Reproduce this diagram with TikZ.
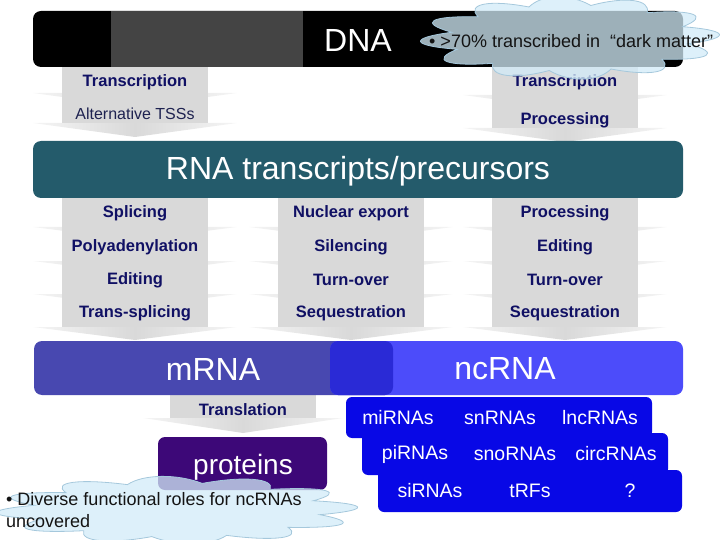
\documentclass[tikz,border=0pt]{standalone}
\usepackage{fontspec}
\setmainfont{Liberation Sans}
\definecolor{segc}{RGB}{217,217,217}
\definecolor{segl}{RGB}{245,245,245}
\definecolor{navy}{RGB}{16,16,100}
\definecolor{navyreg}{RGB}{30,34,80}
\definecolor{dnagray}{RGB}{68,68,68}
\definecolor{rnateal}{RGB}{36,91,107}
\definecolor{mrnac}{RGB}{72,72,176}
\definecolor{ncrnac}{RGB}{76,76,250}
\definecolor{overc}{RGB}{42,42,214}
\definecolor{subc}{RGB}{8,8,230}
\definecolor{protc}{RGB}{61,8,120}
\definecolor{cloudf}{RGB}{210,235,248}
\definecolor{cloudd}{RGB}{165,200,220}
\definecolor{cloudtext}{RGB}{20,20,20}
\newcommand{\arrseg}[6]{%
  \shade[left color=segl,right color=segl,middle color=segc]
    (#1-#5,#3) -- (#1+#5,#3) -- (#1,#3+#6) -- cycle;
  \fill[segc] (#1-#4,#2) rectangle (#1+#4,#3);}
\newcommand{\cloudshape}[5]{%
  \path[cloudbox] ({#1+#3*cos(10)},{#2+#4*sin(10)})
    \foreach \i in {1,...,12}{
      .. controls ({#1+#5*#3*cos(10+(\i-0.667)*30)},{#2+#5*#4*sin(10+(\i-0.667)*30)})
      and ({#1+#5*#3*cos(10+(\i-0.333)*30)},{#2+#5*#4*sin(10+(\i-0.333)*30)})
      .. ({#1+#3*cos(10+\i*30)},{#2+#4*sin(10+\i*30)})
    } -- cycle;}
\tikzset{
  lbl/.style={font=\fontsize{16.5}{18}\selectfont\bfseries, text=navy, inner sep=0pt},
  lblreg/.style={font=\fontsize{16}{18}\selectfont, text=navyreg, inner sep=0pt},
  bigw/.style={font=\fontsize{32}{36}\selectfont, text=white, inner sep=0pt},
  subw/.style={font=\fontsize{19.5}{22}\selectfont, text=white, inner sep=0pt},
  bar/.style={rounded corners=8pt},
  cloudbox/.style={fill=cloudf, fill opacity=0.75, draw=cloudd, line width=0.8pt},
  cloudtxt/.style={font=\fontsize{18}{22}\selectfont, text=cloudtext, inner sep=0pt}
}
\begin{document}
\begin{tikzpicture}[x=1pt,y=-1pt]
\useasboundingbox (0,0) rectangle (720,540);
% gray process arrows, top
\arrseg{135}{60}{93}{73}{102}{14}
\arrseg{135}{93}{123}{73}{102}{14}
\arrseg{565}{60}{95}{73}{102}{14}
\arrseg{565}{95}{128}{73}{102}{14}
% middle columns
\foreach \cx in {135,351,565}{
  \arrseg{\cx}{190}{227}{73}{102}{13}
  \arrseg{\cx}{227}{261}{73}{102}{13}
  \arrseg{\cx}{261}{294}{73}{102}{13}
  \arrseg{\cx}{294}{327}{73}{102}{13}
}
% translation
\arrseg{243}{390}{418}{73}{100}{15}
% bars
\fill[black, bar] (33,11) rectangle (683,67);
\fill[dnagray] (111,11) rectangle (303,67);
\node[bigw] (dna) at (358,40) {DNA};
\fill[rnateal, bar] (33,141) rectangle (683,198);
\node[bigw] (rna) at (358,171) {RNA transcripts/precursors};
\fill[mrnac, bar] (34,341) rectangle (393,395);
\fill[ncrnac, bar] (330,341) rectangle (683,395);
\fill[overc, bar] (330,341) rectangle (393,395);
\node[bigw] (mrna) at (213,369) {mRNA};
\node[bigw] (ncrna) at (505,369) {ncRNA};
\fill[protc, rounded corners=7pt] (158,437) rectangle (327,490);
\node[font=\fontsize{28}{30}\selectfont, text=white, inner sep=0pt] (prot) at (243,467) {proteins};
% ncRNA sub boxes
\fill[subc, rounded corners=6pt] (346,397) rectangle (652,438);
\node[subw] (mi) at (398,418) {miRNAs};
\node[subw] (sn) at (500,418) {snRNAs};
\node[subw] (lnc) at (600,418) {lncRNAs};
\fill[subc, rounded corners=6pt] (362,433) rectangle (668,475);
\node[subw] (pi) at (415,454) {piRNAs};
\node[subw] (sno) at (515,454) {snoRNAs};
\node[subw] (circ) at (616,454) {circRNAs};
\fill[subc, rounded corners=6pt] (378,470) rectangle (682,512);
\node[subw] (si) at (430,491) {siRNAs};
\node[subw] (trf) at (530,491) {tRFs};
\node[subw] (q) at (630,491) {?};
% arrow labels
\node[lbl] (t1) at (135,82) {Transcription};
\node[lblreg] (alt) at (135,114) {Alternative TSSs};
\node[lbl] (t2) at (565,82) {Transcription};
\node[lbl] (p1) at (565,120) {Processing};
\node[lbl] (a1) at (135,213) {Splicing};
\node[lbl] (a2) at (135,247) {Polyadenylation};
\node[lbl] (a3) at (135,280) {Editing};
\node[lbl] (a4) at (135,313) {Trans-splicing};
\node[lbl] (b1) at (351,213) {Nuclear export};
\node[lbl] (b2) at (351,247) {Silencing};
\node[lbl] (b3) at (351,280) {Turn-over};
\node[lbl] (b4) at (351,313) {Sequestration};
\node[lbl] (c1) at (565,213) {Processing};
\node[lbl] (c2) at (565,247) {Editing};
\node[lbl] (c3) at (565,280) {Turn-over};
\node[lbl] (c4) at (565,313) {Sequestration};
\node[lbl] (tl) at (243,410) {Translation};
% clouds
\cloudshape{570}{38}{120}{33}{1.35}
\node[cloudtxt, anchor=west] (ct1) at (429,41) {• >70\% transcribed in \ “dark matter”};
\cloudshape{177}{510}{145}{27}{1.35}
\node[cloudtxt, anchor=north west, align=left] (ct2) at (6,492) {• Diverse functional roles for ncRNAs\\uncovered};
\end{tikzpicture}
\end{document}
